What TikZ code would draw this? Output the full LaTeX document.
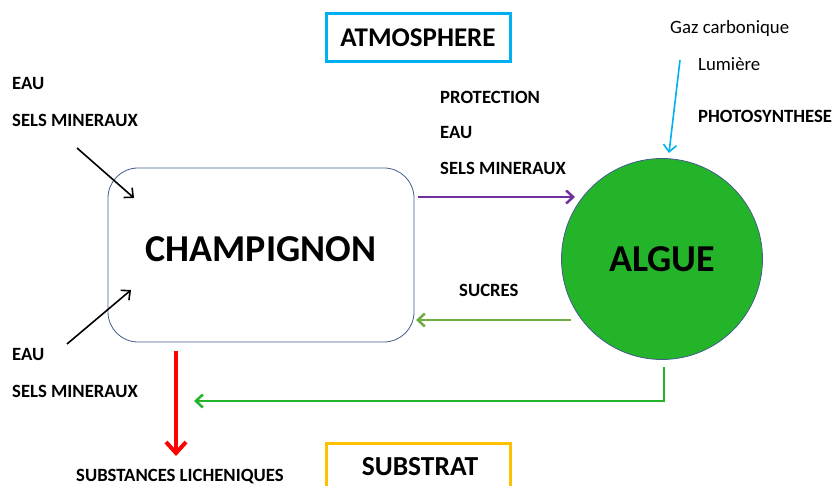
\documentclass[tikz,border=0pt]{standalone}
\usepackage{fontspec}
\setmainfont{Carlito}
\usetikzlibrary{arrows.meta}
\definecolor{cyanb}{RGB}{0,176,240}
\definecolor{yellowb}{RGB}{255,192,0}
\definecolor{blueb}{RGB}{68,94,140}
\definecolor{algae}{RGB}{36,180,42}
\definecolor{purp}{RGB}{112,48,160}
\definecolor{lgreen}{RGB}{112,173,71}
\tikzset{
  lbl/.style={anchor=west, font=\bfseries\fontsize{18.7}{22}\selectfont, inner sep=0pt},
  lblr/.style={anchor=west, font=\fontsize{18.8}{22}\selectfont, inner sep=0pt},
  titlebox/.style={draw, line width=3pt, minimum width=184pt, minimum height=48pt},
  arr/.style={-{Straight Barb[length=7pt,width=13pt]}, line width=2.5pt},
}
\begin{document}
\begin{tikzpicture}[x=1pt,y=-1pt]
\useasboundingbox (0,0) rectangle (835,486);
% title boxes
\node[titlebox, draw=cyanb, font=\bfseries\fontsize{27}{30}\selectfont] (atm) at (418,38) {ATMOSPHERE};
\node[titlebox, draw=yellowb] (sub) at (418,467) {};
\node[font=\bfseries\fontsize{27.5}{30}\selectfont] (subt) at (420,467) {SUBSTRAT};
% main shapes
\node[draw=blueb, line width=0.8pt, rounded corners=30pt, minimum width=306pt, minimum height=174pt, fill=white] (champ) at (261,255) {};
\node[font=\bfseries\fontsize{38}{42}\selectfont] (champt) at (261,249) {CHAMPIGNON};
\node[circle, draw=blueb, line width=0.8pt, fill=algae, minimum size=201pt, inner sep=0pt, font=\bfseries\fontsize{38}{42}\selectfont] (algue) at (662,259) {ALGUE};
% labels
\node[lbl] (eau1) at (12,84) {EAU};
\node[lbl] (sels1) at (12,120) {SELS MINERAUX};
\node[lbl] (eau2) at (12,355) {EAU};
\node[lbl] (sels2) at (12,391) {SELS MINERAUX};
\node[lbl] (prot) at (440,97) {PROTECTION};
\node[lbl] (eau3) at (440,133) {EAU};
\node[lbl] (sels3) at (440,168) {SELS MINERAUX};
\node[lblr] (gaz) at (670,28) {Gaz carbonique};
\node[lblr] (lum) at (698,64) {Lumière};
\node[lbl] (photo) at (698,116) {PHOTOSYNTHESE};
\node[lbl] (sucres) at (459,290) {SUCRES};
\node[lbl] (lich) at (76,477) {SUBSTANCES LICHENIQUES};
% coordinates for free ends
\coordinate (a1s) at (77,148);
\coordinate (a1e) at (134,198);
\coordinate (a2s) at (67,344);
\coordinate (a2e) at (131,290);
\coordinate (cys) at (680,60);
\coordinate (cye) at (669,153);
\coordinate (ps) at (418,197);
\coordinate (pe) at (575,197);
\coordinate (ss) at (571,320);
\coordinate (se) at (416,320);
\coordinate (gs) at (664,367);
\coordinate (gc) at (664,401);
\coordinate (ge) at (194,401);
\coordinate (rs) at (176,351);
\coordinate (re) at (176,456);
% arrows
\draw[arr, line width=1.6pt, black] (a1s) -- (a1e);
\draw[arr, line width=1.6pt, black] (a2s) -- (a2e);
\draw[arr, line width=1.6pt, cyanb] (cys) -- (cye);
\draw[arr, purp] (ps) -- (pe);
\draw[arr, lgreen] (ss) -- (se);
\draw[arr, algae] (gs) -- (gc) -- (ge);
\draw[-{Straight Barb[length=11pt,width=20pt]}, red, line width=4pt] (rs) -- (re);
\end{tikzpicture}
\end{document}
